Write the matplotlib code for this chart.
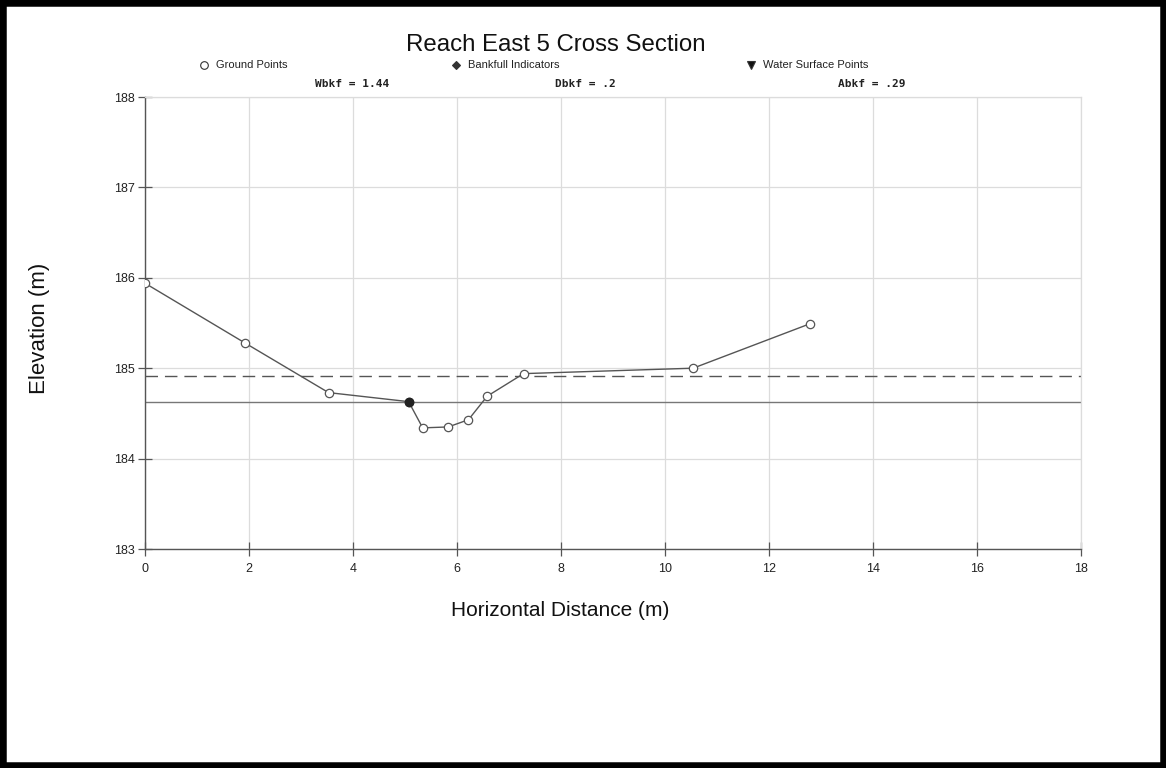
import matplotlib
matplotlib.use("Agg")
import matplotlib.pyplot as plt
from matplotlib.patches import Rectangle

plt.rcParams['font.family'] = ['Liberation Sans', 'DejaVu Sans']

# Surveyed ground points across the section
station = [0.0, 1.92, 3.53, 5.07, 5.34, 5.83, 6.22, 6.58, 7.28, 10.54, 12.78]
elevation = [185.94, 185.28, 184.73, 184.63, 184.34, 184.35, 184.43, 184.69, 184.94, 185.00, 185.49]

# Bankfull indicator
bkf_station = [5.07]
bkf_elevation = [184.63]

# Reference elevations
bankfull_stage = 184.63
upper_stage = 184.91

x_ticks = [0, 2, 4, 6, 8, 10, 12, 14, 16, 18]
y_ticks = [183, 184, 185, 186, 187, 188]

fig = plt.figure(figsize=(11.66, 7.68), dpi=100)
ax = fig.add_axes([145 / 1166, 1 - 549 / 768, (1081 - 145) / 1166, (549 - 97) / 768])

ax.set_xlim(0, 18)
ax.set_ylim(183, 188)
ax.set_xticks(x_ticks)
ax.set_yticks(y_ticks)
ax.grid(True, color='#dcdcdc', linewidth=0.9)
ax.set_axisbelow(True)

for side in ('top', 'right'):
    ax.spines[side].set_color('#dcdcdc')
    ax.spines[side].set_linewidth(0.9)
for side in ('left', 'bottom'):
    ax.spines[side].set_color('#555555')
    ax.spines[side].set_linewidth(1.0)

ax.tick_params(axis='both', direction='inout', length=10, width=0.9,
               color='#555555', labelsize=9, labelcolor='#222222')
ax.tick_params(axis='x', pad=5)
ax.tick_params(axis='y', pad=2)

ax.axhline(bankfull_stage, color='#777777', linewidth=1.0, zorder=2)
ax.axhline(upper_stage, color='#555555', linewidth=1.0, linestyle=(0, (9, 5)), zorder=2)

ax.plot(station, elevation, color='#555555', linewidth=1.0, marker='o',
        markersize=6, markerfacecolor='white', markeredgecolor='#555555',
        markeredgewidth=0.9, zorder=3)
ax.plot(bkf_station, bkf_elevation, linestyle='none', marker='o', markersize=6,
        markerfacecolor='#222222', markeredgecolor='#222222', zorder=4)

ax.set_xlabel('Horizontal Distance (m)', fontsize=15, color='#111111')
ax.set_ylabel('Elevation (m)', fontsize=16, color='#111111')
ax.xaxis.set_label_coords((560 - 145) / (1081 - 145), -(610 - 549) / (549 - 97), transform=ax.transAxes)
ax.yaxis.set_label_coords(-(145 - 40) / (1081 - 145), 0.5 - 5 / (549 - 97), transform=ax.transAxes)
ax.xaxis.label.set_va('center')
ax.yaxis.label.set_va('center')

fig.text(556 / 1166, 1 - 45 / 768, 'Reach East 5 Cross Section', ha='center',
         va='center', fontsize=17.3, color='#111111')

# Legend row
legend_y = 1 - 65 / 768
items = [(204, 'o', 'white', 'Ground Points'),
         (456, 'D', '#333333', 'Bankfull Indicators'),
         (751, 'v', '#111111', 'Water Surface Points')]
for px, mk, fc, label in items:
    fig.lines.append(plt.Line2D([px / 1166], [legend_y], transform=fig.transFigure,
                                marker=mk, markersize=5.5 if mk != 'D' else 4.5,
                                markerfacecolor=fc, markeredgecolor='#333333',
                                markeredgewidth=0.8, linestyle='none'))
    fig.text((px + 12) / 1166, legend_y, label, ha='left', va='center',
             fontsize=8, color='#222222')

# Bankfull summary row
stats_y = 1 - 84 / 768
for px, s in [(315, 'Wbkf = 1.44'), (555, 'Dbkf = .2'), (838, 'Abkf = .29')]:
    fig.text(px / 1166, stats_y, s, ha='left', va='center', fontsize=8,
             family='DejaVu Sans Mono', fontweight='bold', color='#222222')

# Outer frame
fig.patches.append(Rectangle((0, 0), 1, 1, transform=fig.transFigure, fill=False,
                             edgecolor='black', linewidth=9, zorder=10))

fig.savefig('out.png', dpi=100)
